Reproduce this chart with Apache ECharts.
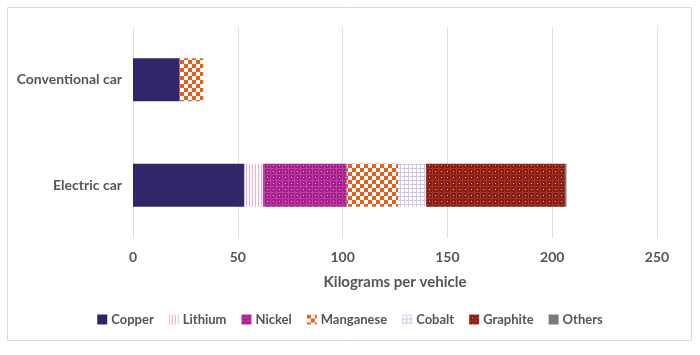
<!DOCTYPE html>
<html><head><meta charset="utf-8">
<script src="https://cdn.jsdelivr.net/npm/echarts@6/dist/echarts.min.js"></script>
<style>html,body{margin:0;padding:0;background:#fff}#c{width:700px;height:355px}</style>
</head><body><div id="c"></div>
<script>
const categories = ['Conventional car', 'Electric car'];
const seriesNames = ['Copper', 'Lithium', 'Nickel', 'Manganese', 'Cobalt', 'Graphite', 'Others'];
const copper = [22.3, 53.2];
const lithium = [0, 8.9];
const nickel = [0, 39.9];
const manganese = [11.2, 24.5];
const cobalt = [0, 13.3];
const graphite = [0, 66.3];
const others = [0, 0.7];
const xTicks = [0, 50, 100, 150, 200, 250];

function pat(w, h, draw) {
  const c = document.createElement('canvas');
  c.width = w; c.height = h;
  const g = c.getContext('2d');
  draw(g, w, h);
  return { image: c, repeat: 'repeat' };
}
const fills = {
  Copper: '#30266a',
  Lithium: pat(3, 3, (g) => { g.fillStyle = '#fff'; g.fillRect(0,0,3,3); g.fillStyle = '#f6a9c9'; g.fillRect(0,0,1,3); }),
  Nickel: pat(6, 6, (g) => { g.fillStyle = '#a61f8c'; g.fillRect(0,0,6,6); g.fillStyle = '#b8409f'; g.fillRect(0,0,6,1); g.fillRect(0,0,1,6); g.fillStyle = '#f5a6dc'; g.fillRect(3,3,1,1); }),
  Manganese: pat(8, 8, (g) => { g.fillStyle = '#fff'; g.fillRect(0,0,8,8); g.fillStyle = '#e5601e'; g.fillRect(0,0,4,4); g.fillRect(4,4,4,4); }),
  Cobalt: pat(4, 4, (g) => { g.fillStyle = '#fff'; g.fillRect(0,0,4,4); g.fillStyle = '#cdc6f2'; g.fillRect(0,0,4,1); g.fillRect(0,0,1,4); }),
  Graphite: pat(6, 6, (g) => { g.fillStyle = '#8a1c12'; g.fillRect(0,0,6,6); g.fillStyle = '#9c3328'; g.fillRect(0,0,6,1); g.fillRect(0,0,1,6); g.fillStyle = '#f4b0a0'; g.fillRect(3,3,1,1); }),
  Others: '#7a7a7a'
};
const values = [copper, lithium, nickel, manganese, cobalt, graphite, others];

const chart = echarts.init(document.getElementById('c'));
chart.setOption({
  animation: false,
  textStyle: { fontFamily: 'Lato' },
  graphic: [{ type: 'rect', shape: { x: 7.5, y: 7.5, width: 684, height: 333 }, style: { fill: 'none', stroke: '#d9d9d9', lineWidth: 1 }, silent: true }],
  grid: { left: 133, right: 43, top: 27, bottom: 117 },
  xAxis: {
    type: 'value', min: 0, max: 250, interval: 50,
    name: 'Kilograms per vehicle', nameLocation: 'middle', nameGap: 37,
    nameTextStyle: { color: '#555', fontSize: 15, fontWeight: 'bold', fontFamily: 'Lato' },
    axisLine: { show: false }, axisTick: { show: false },
    axisLabel: { color: '#555', fontSize: 14, fontWeight: 'bold', margin: 12, fontFamily: 'Lato' },
    splitLine: { show: true, lineStyle: { color: '#e0e0e0', width: 1 } }
  },
  yAxis: {
    type: 'category', data: categories, inverse: true,
    axisLine: { show: false }, axisTick: { show: false },
    axisLabel: { color: '#555', fontSize: 14, fontWeight: 'bold', margin: 11, fontFamily: 'Lato' }
  },
  legend: {
    bottom: 24, left: 'center', icon: 'rect', itemWidth: 10, itemHeight: 10, itemGap: 15,
    textStyle: { color: '#555', fontSize: 13, fontWeight: 'bold', fontFamily: 'Lato', padding: [0,0,0,-1] },
    data: seriesNames
  },
  series: seriesNames.map((n, i) => ({
    name: n, type: 'bar', stack: 'total', barWidth: 43,
    itemStyle: { color: fills[n] },
    data: values[i]
  }))
});
</script></body></html>
